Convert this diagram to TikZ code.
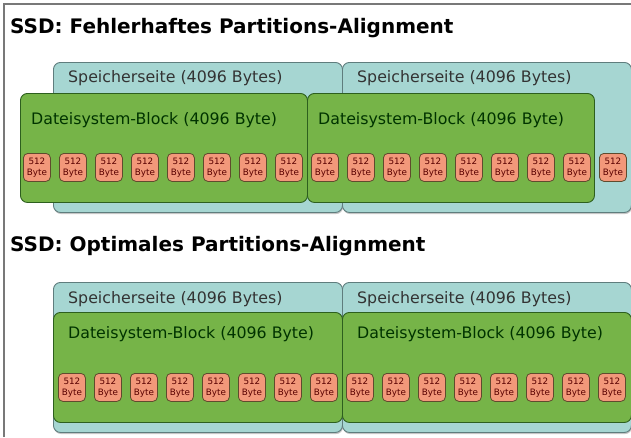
\documentclass[tikz,border=0pt]{standalone}
\usepackage{fontspec}
\setmainfont{DejaVu Sans}
\usepackage{xcolor}
\usetikzlibrary{positioning, shadows}
\definecolor{pagecol}{RGB}{166,214,210}
\definecolor{pageline}{RGB}{95,125,125}
\definecolor{blockcol}{RGB}{118,180,72}
\definecolor{blockline}{RGB}{45,95,30}
\definecolor{sectorcol}{RGB}{242,152,122}
\definecolor{sectorline}{RGB}{95,75,45}
\definecolor{framecol}{RGB}{120,120,120}

\begin{document}
\begin{tikzpicture}[
  x=1pt, y=-1pt,
  page/.style={draw=pageline, fill=pagecol, line width=0.9pt,
               rounded corners=7pt, anchor=north west, inner sep=0pt,
               minimum width=289pt, minimum height=150pt,
               drop shadow={shadow xshift=0.6pt, shadow yshift=-1.6pt,
                            opacity=0.45}},
  fsblock/.style={draw=blockline, fill=blockcol, line width=0.9pt,
                  rounded corners=7pt, anchor=north west, inner sep=0pt,
                  minimum width=287pt, minimum height=109pt},
  sector/.style={draw=sectorline, fill=sectorcol, line width=0.8pt,
                 rounded corners=4.5pt, anchor=north west, inner sep=0pt,
                 minimum width=27pt, minimum height=28pt, align=center,
                 font=\fontsize{8.8}{11}\selectfont, text=red!35!black},
  title/.style={anchor=base west, inner sep=0pt,
                font=\fontsize{20}{24}\selectfont\bfseries},
  pagelbl/.style={anchor=base west, inner sep=0pt, text=black!80,
                  font=\fontsize{15.8}{18}\selectfont},
  blocklbl/.style={anchor=base west, inner sep=0pt, text=black!80!green,
                   font=\fontsize{15.8}{18}\selectfont}
]
  \useasboundingbox (0,0) rectangle (631,437);
  % frame
  \draw[framecol, line width=1.3pt] (4,437) -- (4,4) -- (631,4);

  % faulty alignment
  \node[title] (t1) at (10,33) {SSD: Fehlerhaftes Partitions-Alignment};
  \node[page] (pa1) at (53,62) {};
  \node[page] (pa2) at (342,62) {};
  \node[fsblock] (ba1) at (20,93) {};
  \node[fsblock] (ba2) at (307,93) {};
  \node[pagelbl] at (68,82) {Speicherseite (4096 Bytes)};
  \node[pagelbl] at (357,82) {Speicherseite (4096 Bytes)};
  \node[blocklbl] at (31,124) {Dateisystem-Block (4096 Byte)};
  \node[blocklbl] at (318,124) {Dateisystem-Block (4096 Byte)};
  \foreach \i in {0,...,16}
    \node[sector] (sa\i) at (23+36*\i,153) {512\\Byte};

  % optimal alignment
  \node[title] (t2) at (10,251) {SSD: Optimales Partitions-Alignment};
  \node[page] (pb1) at (53,282) {};
  \node[page] (pb2) at (342,282) {};
  \node[fsblock, minimum width=289pt, minimum height=110pt] (bb1) at (53,312) {};
  \node[fsblock, minimum width=289pt, minimum height=110pt] (bb2) at (342,312) {};
  \node[pagelbl] at (68,303) {Speicherseite (4096 Bytes)};
  \node[pagelbl] at (357,303) {Speicherseite (4096 Bytes)};
  \node[blocklbl] at (68,338) {Dateisystem-Block (4096 Byte)};
  \node[blocklbl] at (357,338) {Dateisystem-Block (4096 Byte)};
  \foreach \i in {0,...,15}
    \node[sector] (sb\i) at (58+36*\i,373) {512\\Byte};
\end{tikzpicture}
\end{document}
